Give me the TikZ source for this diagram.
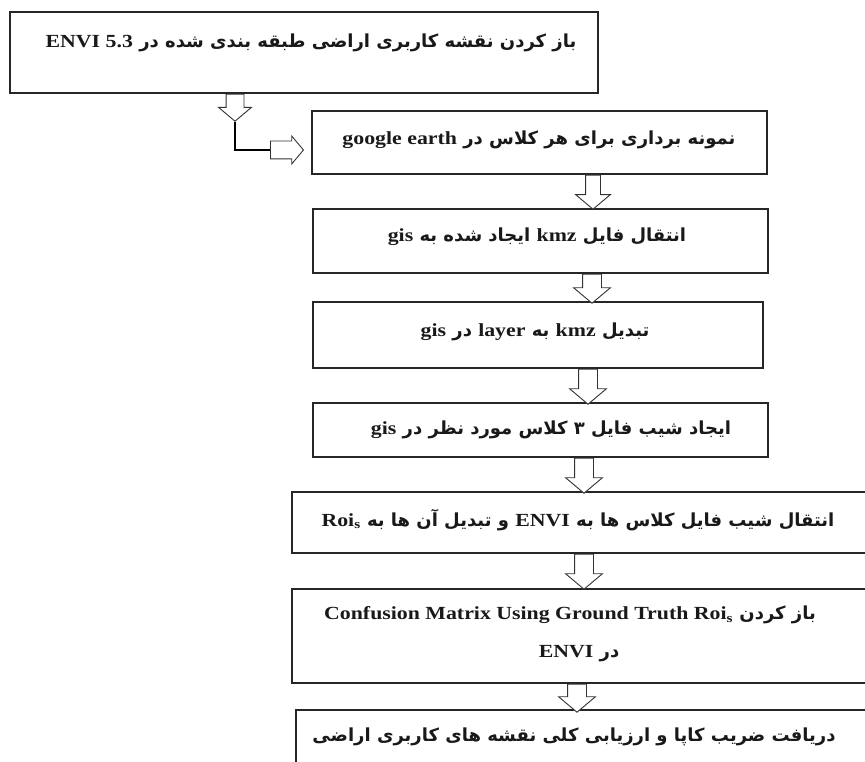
\documentclass[tikz,border=0pt]{standalone}
\usepackage{fontspec}
\setmainfont{Liberation Serif}[FakeStretch=1.18]
\newfontfamily\farsi[Script=Arabic]{DejaVu Sans}
\TeXXeTstate=1
\usetikzlibrary{shapes.arrows}

\newcommand{\lat}[1]{\beginL{\rmfamily\fontsize{18.5}{21}\selectfont #1}\endL{}}
\newcommand{\fatxt}[1]{\beginR #1\endR}

\tikzset{
  box/.style={draw=black!85, line width=1.5pt, inner sep=0pt},
  txt/.style={font=\farsi\bfseries\fontsize{18}{22}\selectfont, text=black!90, inner sep=0pt},
  blockarrow/.style={single arrow, draw=black!80, line width=0.9pt, fill=white, inner xsep=0pt, inner ysep=9pt, single arrow head extend=9pt, single arrow tip angle=100, anchor=tail},
  downarrow/.style={blockarrow, rotate=-90},
}

\begin{document}
\begin{tikzpicture}[x=1pt, y=-1pt]
    \useasboundingbox (0,0) rectangle (865,762);
    \clip (0,0) rectangle (865,762);
    \node[box, minimum width=588, minimum height=81] (b1) at (304,52.5) {};
    \node[box, minimum width=455, minimum height=63] (b2) at (539.5,142.5) {};
    \node[box, minimum width=455, minimum height=64] (b3) at (540.5,241) {};
    \node[box, minimum width=450, minimum height=66] (b4) at (538,335) {};
    \node[box, minimum width=455, minimum height=54] (b5) at (540.5,430) {};
    \node[box, minimum width=576, minimum height=61] (b6) at (580,522.5) {};
    \node[box, minimum width=576, minimum height=94] (b7) at (580,636) {};
    \node[box, minimum width=572, minimum height=69] (b8) at (582,744.5) {};
    \node[txt] (t1) at (311,43) {\fatxt{باز کردن نقشه کاربری اراضی طبقه بندی شده در \lat{ENVI 5.3}}};
    \node[txt] (t2) at (539,140) {\fatxt{نمونه برداری برای هر کلاس در \lat{google earth}}};
    \node[txt] (t3) at (537,237) {\fatxt{انتقال فایل \lat{kmz} ایجاد شده به \lat{gis}}};
    \node[txt] (t4) at (535,332) {\fatxt{تبدیل \lat{kmz} به \lat{layer} در \lat{gis}}};
    \node[txt] (t5) at (551,430) {\fatxt{ایجاد شیب فایل ۳ کلاس مورد نظر در \lat{gis}}};
    \node[txt] (t6) at (578,520) {\fatxt{انتقال شیب فایل کلاس ها به \lat{ENVI} و تبدیل آن ها به \lat{Roi\textsubscript{s}}}};
    \node[txt] (t7) at (570,615) {\fatxt{باز کردن \lat{Confusion Matrix Using Ground Truth Roi\textsubscript{s}}}};
    \node[txt] (t7b) at (579,654) {\fatxt{در \lat{ENVI}}};
    \node[txt] (t8) at (574,737) {\fatxt{دریافت ضریب کاپا و ارزیابی کلی نقشه های کاربری اراضی}};
    \node[downarrow, minimum height=27, inner ysep=8.5pt, single arrow head extend=7.5pt] (a1) at ([xshift=-69]b1.south) {};
    \node[blockarrow, minimum height=33, inner ysep=8.5pt, single arrow head extend=5pt] (a1b) at (270,150) {};
    \draw[line width=1.6pt] (a1.tip) |- (a1b.tail);
    \node[downarrow, minimum height=34, inner ysep=7pt, single arrow head extend=10pt] (a2) at ([xshift=53.5]b2.south) {};
    \node[downarrow, minimum height=29] (a3) at ([xshift=51.5]b3.south) {};
    \node[downarrow, minimum height=35] (a4) at ([xshift=50]b4.south) {};
    \node[downarrow, minimum height=35] (a5) at ([xshift=43.5]b5.south) {};
    \node[downarrow, minimum height=35] (a6) at ([xshift=4]b6.south) {};
    \node[downarrow, minimum height=28] (a7) at ([xshift=-3]b7.south) {};
\end{tikzpicture}
\end{document}
